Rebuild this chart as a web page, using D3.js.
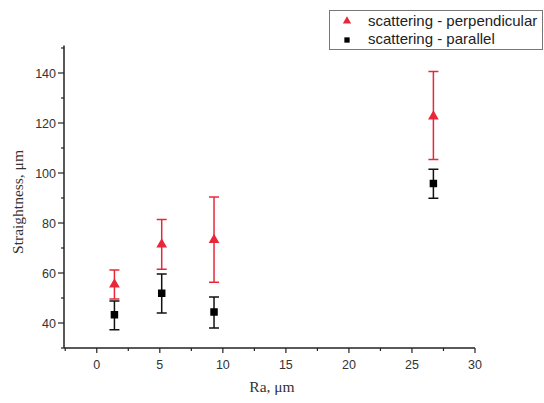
<!DOCTYPE html>
<html lang="en">
<head>
<meta charset="UTF-8">
<title>Straightness vs Ra</title>
<script src="https://cdn.jsdelivr.net/npm/d3@7"></script>
<style>
  body { margin: 0; background: #fff; }
</style>
</head>
<body>
<svg id="chart" width="544" height="403"></svg>
<script>
// data
const ra = [1.4, 5.15, 9.3, 26.7];
const perpMean = [55.8, 71.8, 73.6, 123.0];
const perpLow  = [49.6, 61.5, 56.3, 105.4];
const perpHigh = [61.2, 81.4, 90.4, 140.6];
const paraMean = [43.3, 51.9, 44.4, 95.8];
const paraLow  = [37.3, 44.0, 38.0, 89.9];
const paraHigh = [48.8, 59.6, 50.4, 101.5];
const xTicks = [0, 5, 10, 15, 20, 25, 30];
const yTicks = [40, 60, 80, 100, 120, 140];
const legendLabels = ["scattering - perpendicular", "scattering - parallel"];

const svg = d3.select("#chart");
const red = "#e8283a";

const x = d3.scaleLinear().domain([-2.6, 30]).range([64, 475]);
const y = d3.scaleLinear().domain([30, 151]).range([348, 45.5]);

// axes
const xAxis = svg.append("g").attr("transform", "translate(0,348)");
xAxis.append("line").attr("x1", 64).attr("x2", x(30)).attr("stroke", "#222").attr("stroke-width", 1.5);
xAxis.selectAll(".minor").data(d3.range(-2.5, 30, 2.5)).enter().append("line")
  .attr("x1", d => x(d)).attr("x2", d => x(d)).attr("y1", 0)
  .attr("y2", d => d % 5 === 0 ? 5 : 3).attr("stroke", "#222").attr("stroke-width", 1.2);
xAxis.append("line").attr("x1", x(30)).attr("x2", x(30)).attr("y1", 0).attr("y2", 5).attr("stroke", "#222").attr("stroke-width", 1.2);
xAxis.selectAll(".lab").data(xTicks).enter().append("text")
  .attr("x", d => x(d)).attr("y", 21).attr("text-anchor", "middle")
  .attr("font-family", "Liberation Sans, Arial, sans-serif").attr("font-size", 12.5).attr("fill", "#333")
  .text(d => d);

const yAxis = svg.append("g").attr("transform", "translate(64,0)");
yAxis.append("line").attr("y1", 348).attr("y2", y(151)).attr("stroke", "#222").attr("stroke-width", 1.5);
yAxis.selectAll(".minor").data(d3.range(30, 151, 10)).enter().append("line")
  .attr("y1", d => y(d)).attr("y2", d => y(d)).attr("x1", 0)
  .attr("x2", d => d % 20 === 0 ? -6 : -3).attr("stroke", "#222").attr("stroke-width", 1.2);
yAxis.selectAll(".lab").data(yTicks).enter().append("text")
  .attr("x", -8).attr("y", d => y(d) + 4.5).attr("text-anchor", "end")
  .attr("font-family", "Liberation Sans, Arial, sans-serif").attr("font-size", 12.5).attr("fill", "#333")
  .text(d => d);

// axis titles
svg.append("text").attr("x", 272).attr("y", 392).attr("text-anchor", "middle")
  .attr("font-family", "Liberation Serif, Times New Roman, serif").attr("font-size", 15.5).attr("fill", "#333")
  .text("Ra, μm");
svg.append("text").attr("transform", "translate(23,202) rotate(-90)").attr("text-anchor", "middle")
  .attr("font-family", "Liberation Serif, Times New Roman, serif").attr("font-size", 15.5).attr("fill", "#333")
  .text("Straightness, μm");

// error bars
function errorBars(means, lows, highs, color) {
  const g = svg.append("g").attr("stroke", color).attr("stroke-width", 1.5);
  means.forEach((m, i) => {
    const cx = x(ra[i]);
    g.append("line").attr("x1", cx).attr("x2", cx).attr("y1", y(lows[i])).attr("y2", y(highs[i]));
    g.append("line").attr("x1", cx - 5).attr("x2", cx + 5).attr("y1", y(lows[i])).attr("y2", y(lows[i]));
    g.append("line").attr("x1", cx - 5).attr("x2", cx + 5).attr("y1", y(highs[i])).attr("y2", y(highs[i]));
  });
}
errorBars(paraMean, paraLow, paraHigh, "#111");
errorBars(perpMean, perpLow, perpHigh, red);

const tri = d3.symbol().type(d3.symbolTriangle).size(50);
const sq = d3.symbol().type(d3.symbolSquare).size(56);

svg.selectAll(".para").data(paraMean).enter().append("path")
  .attr("d", sq).attr("fill", "#000")
  .attr("transform", (d, i) => `translate(${x(ra[i])},${y(d)})`);
svg.selectAll(".perp").data(perpMean).enter().append("path")
  .attr("d", tri).attr("fill", red)
  .attr("transform", (d, i) => `translate(${x(ra[i])},${y(d) + 1})`);

// legend
const lg = svg.append("g");
lg.append("rect").attr("x", 329.5).attr("y", 10.5).attr("width", 213).attr("height", 39)
  .attr("fill", "#fff").attr("stroke", "#777").attr("stroke-width", 1);
lg.append("path").attr("d", d3.symbol().type(d3.symbolTriangle).size(30)).attr("fill", red)
  .attr("transform", "translate(347,21)");
lg.append("path").attr("d", d3.symbol().type(d3.symbolSquare).size(28)).attr("fill", "#000")
  .attr("transform", "translate(347,40)");
lg.selectAll(".lt").data(legendLabels).enter().append("text")
  .attr("x", 368).attr("y", (d, i) => 26 + i * 18)
  .attr("font-family", "Liberation Sans, Arial, sans-serif").attr("font-size", 15).attr("fill", "#222")
  .text(d => d);
</script>
</body>
</html>
